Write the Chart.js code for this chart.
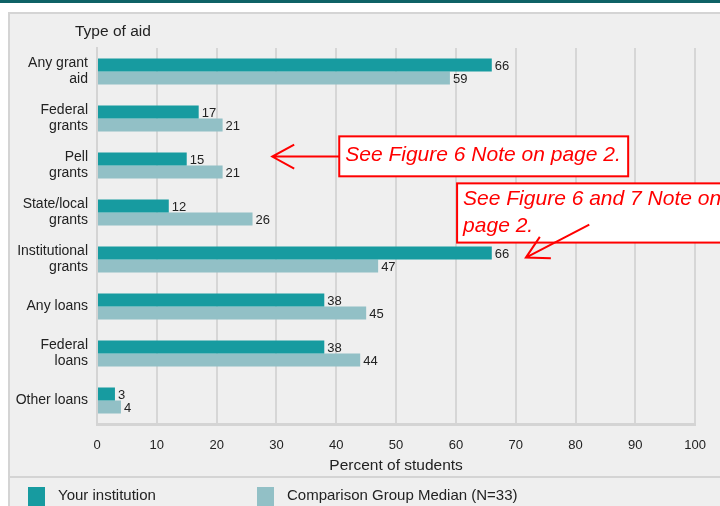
<!DOCTYPE html>
<html>
<head>
<meta charset="utf-8">
<script src="https://cdn.jsdelivr.net/npm/chart.js@4"></script>
<style>
  html, body { margin: 0; padding: 0; background: #fff; }
  #wrap { position: relative; width: 720px; height: 506px; }
</style>
</head>
<body>
<div id="wrap"><canvas id="barChart" width="720" height="506"></canvas></div>
<script>
// data
var categories = [['Any grant', 'aid'], ['Federal', 'grants'], ['Pell', 'grants'], ['State/local', 'grants'],
    ['Institutional', 'grants'], 'Any loans', ['Federal', 'loans'], 'Other loans'];
var yourInstitution = [66, 17, 15, 12, 66, 38, 38, 3];
var comparisonMedian = [59, 21, 21, 26, 47, 45, 44, 4];
var seriesNames = ['Your institution', 'Comparison Group Median (N=33)'];
var xTicks = [0, 10, 20, 30, 40, 50, 60, 70, 80, 90, 100];

var FONT = 'Arial, "Liberation Sans", sans-serif';
var DARK = '#179ba0';
var LIGHT = '#92c0c6';

// panel, title, legend, value labels and the red notes
var decorPlugin = {
    id: 'decor',
    beforeDraw: function (chart) {
        var ctx = chart.ctx;
        ctx.save();
        ctx.fillStyle = '#ffffff';
        ctx.fillRect(0, 0, 720, 506);
        ctx.fillStyle = '#0e6266';
        ctx.fillRect(0, 0, 720, 3);
        ctx.fillStyle = '#efefef';
        ctx.fillRect(8, 12, 712, 494);
        ctx.strokeStyle = '#d4d4d4';
        ctx.lineWidth = 2;
        ctx.strokeRect(9, 13, 720, 500);
        ctx.beginPath();
        ctx.moveTo(9, 477);
        ctx.lineTo(720, 477);
        ctx.stroke();
        ctx.restore();
    },
    afterDatasetsDraw: function (chart) {
        var ctx = chart.ctx;
        ctx.save();
        ctx.font = '13px ' + FONT;
        ctx.fillStyle = '#222';
        ctx.textBaseline = 'middle';
        ctx.textAlign = 'left';
        chart.data.datasets.forEach(function (ds, di) {
            chart.getDatasetMeta(di).data.forEach(function (bar, i) {
                ctx.fillText(ds.data[i], bar.x + 3, bar.y + 1);
            });
        });
        ctx.restore();
    },
    afterDraw: function (chart) {
        var ctx = chart.ctx;
        var xs = chart.scales.x, ys = chart.scales.y;
        ctx.save();
        // axis group title
        ctx.font = '15.5px ' + FONT;
        ctx.fillStyle = '#222';
        ctx.textBaseline = 'middle';
        ctx.fillText('Type of aid', 75, 32);
        // legend
        var lx = [28, 257];
        var cols = [DARK, LIGHT];
        chart.data.datasets.forEach(function (ds, i) {
            ctx.fillStyle = cols[i];
            ctx.fillRect(lx[i], 487, 17, 19);
            ctx.fillStyle = '#222';
            ctx.font = '15px ' + FONT;
            ctx.fillText(ds.label, lx[i] + 30, 496);
        });

        // notes
        var X = function (v) { return xs.getPixelForValue(v); };
        var Y = function (v) { return ys.getPixelForValue(v); };
        ctx.strokeStyle = '#ff0000';
        ctx.fillStyle = '#ff0000';
        ctx.lineWidth = 2;
        ctx.font = 'italic 21px ' + FONT;
        ctx.textBaseline = 'alphabetic';

        function box(x0, y0, x1, y1) {
            ctx.fillStyle = '#ffffff';
            ctx.fillRect(x0, y0, x1 - x0, y1 - y0);
            ctx.strokeRect(x0, y0, x1 - x0, y1 - y0);
            ctx.fillStyle = '#ff0000';
        }
        function arrow(x0, y0, x1, y1, spread) {
            var a = Math.atan2(y1 - y0, x1 - x0);
            ctx.beginPath();
            ctx.moveTo(x0, y0);
            ctx.lineTo(x1, y1);
            ctx.moveTo(x1 - 25 * Math.cos(a - spread), y1 - 25 * Math.sin(a - spread));
            ctx.lineTo(x1, y1);
            ctx.lineTo(x1 - 25 * Math.cos(a + spread), y1 - 25 * Math.sin(a + spread));
            ctx.stroke();
        }

        box(X(40.5), Y(1.38), X(88.8), Y(2.23));
        ctx.fillText('See Figure 6 Note on page 2.', X(40.5) + 6, Y(2) - 5);
        arrow(X(40.5), Y(1.81), X(29.3), Y(1.81), 0.5);

        box(X(60.2), Y(2.38), 722, Y(3.64));
        ctx.fillText('See Figure 6 and 7 Note on', X(60.2) + 6, Y(2.38) + 22);
        ctx.fillText('page 2.', X(60.2) + 6, Y(2.38) + 49);
        arrow(X(82.3), Y(3.26), X(71.7), Y(3.96), 0.5);
        ctx.restore();
    }
};

new Chart(document.querySelector('#barChart'), {
    type: 'bar',
    data: {
        labels: categories,
        datasets: [{
            label: seriesNames[0],
            data: yourInstitution,
            backgroundColor: DARK,
            borderWidth: 0
        }, {
            label: seriesNames[1],
            data: comparisonMedian,
            backgroundColor: LIGHT,
            borderWidth: 0
        }]
    },
    options: {
        indexAxis: 'y',
        responsive: false,
        animation: false,
        devicePixelRatio: 1,
        barPercentage: 1,
        categoryPercentage: 0.55,
        layout: { padding: { top: 48, right: 23, bottom: 22, left: 0 } },
        plugins: {
            legend: { display: false },
            tooltip: { enabled: false }
        },
        scales: {
            x: {
                min: 0,
                max: 100,
                afterBuildTicks: function (scale) {
                    scale.ticks = xTicks.map(function (v) { return { value: v }; });
                },
                afterFit: function (scale) { scale.height = 60; },
                grid: { color: '#d6d6d6', lineWidth: 2, drawTicks: false },
                border: { color: '#d4d4d4', width: 3 },
                ticks: { padding: 14, color: '#222', font: { family: FONT, size: 13 } },
                title: {
                    display: true,
                    text: 'Percent of students',
                    color: '#222',
                    font: { family: FONT, size: 15.5 },
                    padding: { top: 0, bottom: 9 }
                }
            },
            y: {
                afterFit: function (scale) { scale.width = 97; },
                grid: { display: false, drawTicks: false },
                border: { color: '#d4d4d4', width: 2 },
                ticks: { padding: 9, color: '#222', font: { family: FONT, size: 14, lineHeight: 1.15 } }
            }
        }
    },
    plugins: [decorPlugin]
});
</script>
</body>
</html>
